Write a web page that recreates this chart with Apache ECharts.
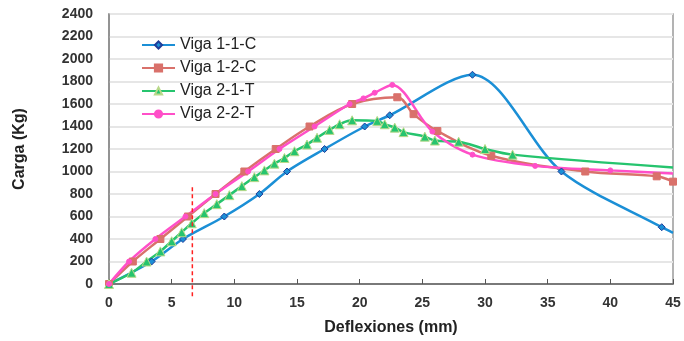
<!DOCTYPE html>
<html><head><meta charset="utf-8">
<script src="https://cdn.jsdelivr.net/npm/echarts@6/dist/echarts.min.js"></script>
<style>html,body{margin:0;padding:0;background:#fff}#c{width:684px;height:341px}</style>
</head><body><div id="c"></div>
<script>
const seriesNames = ['Viga 1-1-C','Viga 1-2-C','Viga 2-1-T','Viga 2-2-T'];
const xTicks = [0,5,10,15,20,25,30,35,40,45];
const yTicks = [0,200,400,600,800,1000,1200,1400,1600,1800,2000,2200,2400];
// [deflexión mm, carga kg]; a third element marks the curve end without a marker
const viga11C = [[0,0],[3.4,200],[5.9,400],[9.2,600],[12,800],[14.2,1000],[17.2,1200],[20.4,1400],[22.4,1500],[29,1860],[36.1,1000],[44.1,505],[45,455,0]];
const viga12C = [[0,0],[1.9,200],[4.1,400],[6.3,600],[8.5,800],[10.8,1000],[13.3,1200],[16.0,1400],[19.4,1600],[23.0,1660],[24.3,1510],[26.2,1360],[30.5,1140],[38.0,1000],[43.7,957],[45,910]];
const viga21T = [[0,0],[1.8,100],[3.0,200],[4.1,290],[5.0,380],[5.8,460],[6.6,540],[7.6,630],[8.6,710],[9.6,790],[10.6,870],[11.6,950],[12.4,1010],[13.2,1070],[14.0,1120],[14.8,1180],[15.8,1240],[16.6,1300],[17.6,1370],[18.4,1420],[19.4,1455],[21.4,1450],[22.0,1420],[22.8,1390],[23.5,1350],[25.2,1310],[26.0,1275],[27.9,1265],[30.0,1200],[32.2,1150],[45,1035,0]];
const viga22T = [[0,0],[1.6,200],[3.7,400],[6.1,600],[8.5,800],[11.1,1000],[13.6,1200],[16.4,1400],[19.2,1600],[20.3,1650],[21.2,1700],[22.6,1770],[25.8,1355],[29.0,1150],[34.0,1050],[40.0,1010],[45,983,0]];
const refLine = [[6.65,860],[6.65,-110]];

function pts(arr){return arr.map(p=>p.length>2?{value:[p[0],p[1]],symbol:'none'}:{value:p});}

const chart = echarts.init(document.getElementById('c'));
const font = 'Liberation Sans, Arial, sans-serif';
const mk = (name, data, color, symbol, size, border, smooth) => ({
  name, type:'line', data: pts(data), smooth:smooth, symbol, symbolSize:size,
  lineStyle:{color, width:2.5}, itemStyle:{color, borderColor:border||color, borderWidth:1},
  emphasis:{disabled:true}, z:3
});
chart.setOption({
  animation:false,
  grid:{left:109, right:11, top:14, bottom:56, show:true, borderColor:'#9a9a9a', borderWidth:1.5},
  legend:{data:seriesNames, orient:'vertical', left:136, top:32, itemWidth:33, itemHeight:9, itemGap:7,
    textStyle:{fontFamily:font, fontSize:16, color:'#222'}},
  xAxis:{type:'value', min:0, max:45, interval:5,
    name:'Deflexiones (mm)', nameLocation:'middle', nameGap:36,
    nameTextStyle:{fontFamily:font, fontSize:16, fontWeight:'bold', color:'#222'},
    axisLine:{lineStyle:{color:'#555', width:1.5}}, axisTick:{inside:true, length:5, lineStyle:{color:'#555'}},
    axisLabel:{fontFamily:font, fontSize:14, fontWeight:'bold', color:'#333', margin:12, formatter:v=>xTicks.includes(v)?String(v):''},
    splitLine:{show:false}},
  yAxis:{type:'value', min:0, max:2400, interval:200,
    name:'Carga (Kg)', nameLocation:'middle', nameGap:81, nameRotate:90,
    nameTextStyle:{fontFamily:font, fontSize:16, fontWeight:'bold', color:'#222'},
    axisLine:{show:true, lineStyle:{color:'#888', width:1.5}}, axisTick:{show:false},
    axisLabel:{fontFamily:font, fontSize:14, fontWeight:'bold', color:'#333', margin:16, formatter:v=>yTicks.includes(v)?String(v):''},
    splitLine:{lineStyle:{color:'#e6e6e6', width:2}}},
  series:[
    mk(seriesNames[0], viga11C, '#1b8fd6', 'diamond', 7, '#1f3c99', 0.3),
    mk(seriesNames[1], viga12C, '#d9716b', 'rect', 7, null, 0.35),
    mk(seriesNames[2], viga21T, '#26c46e', 'triangle', 9, '#b9d98a', 0.35),
    mk(seriesNames[3], viga22T, '#ff4fc8', 'circle', 5, null, 0.3),
    {name:'ref', type:'line', data:refLine, symbol:'none', clip:false, silent:true,
     lineStyle:{color:'#ff2020', width:1.5, type:[4,3]}, z:4}
  ]
});
</script></body></html>
